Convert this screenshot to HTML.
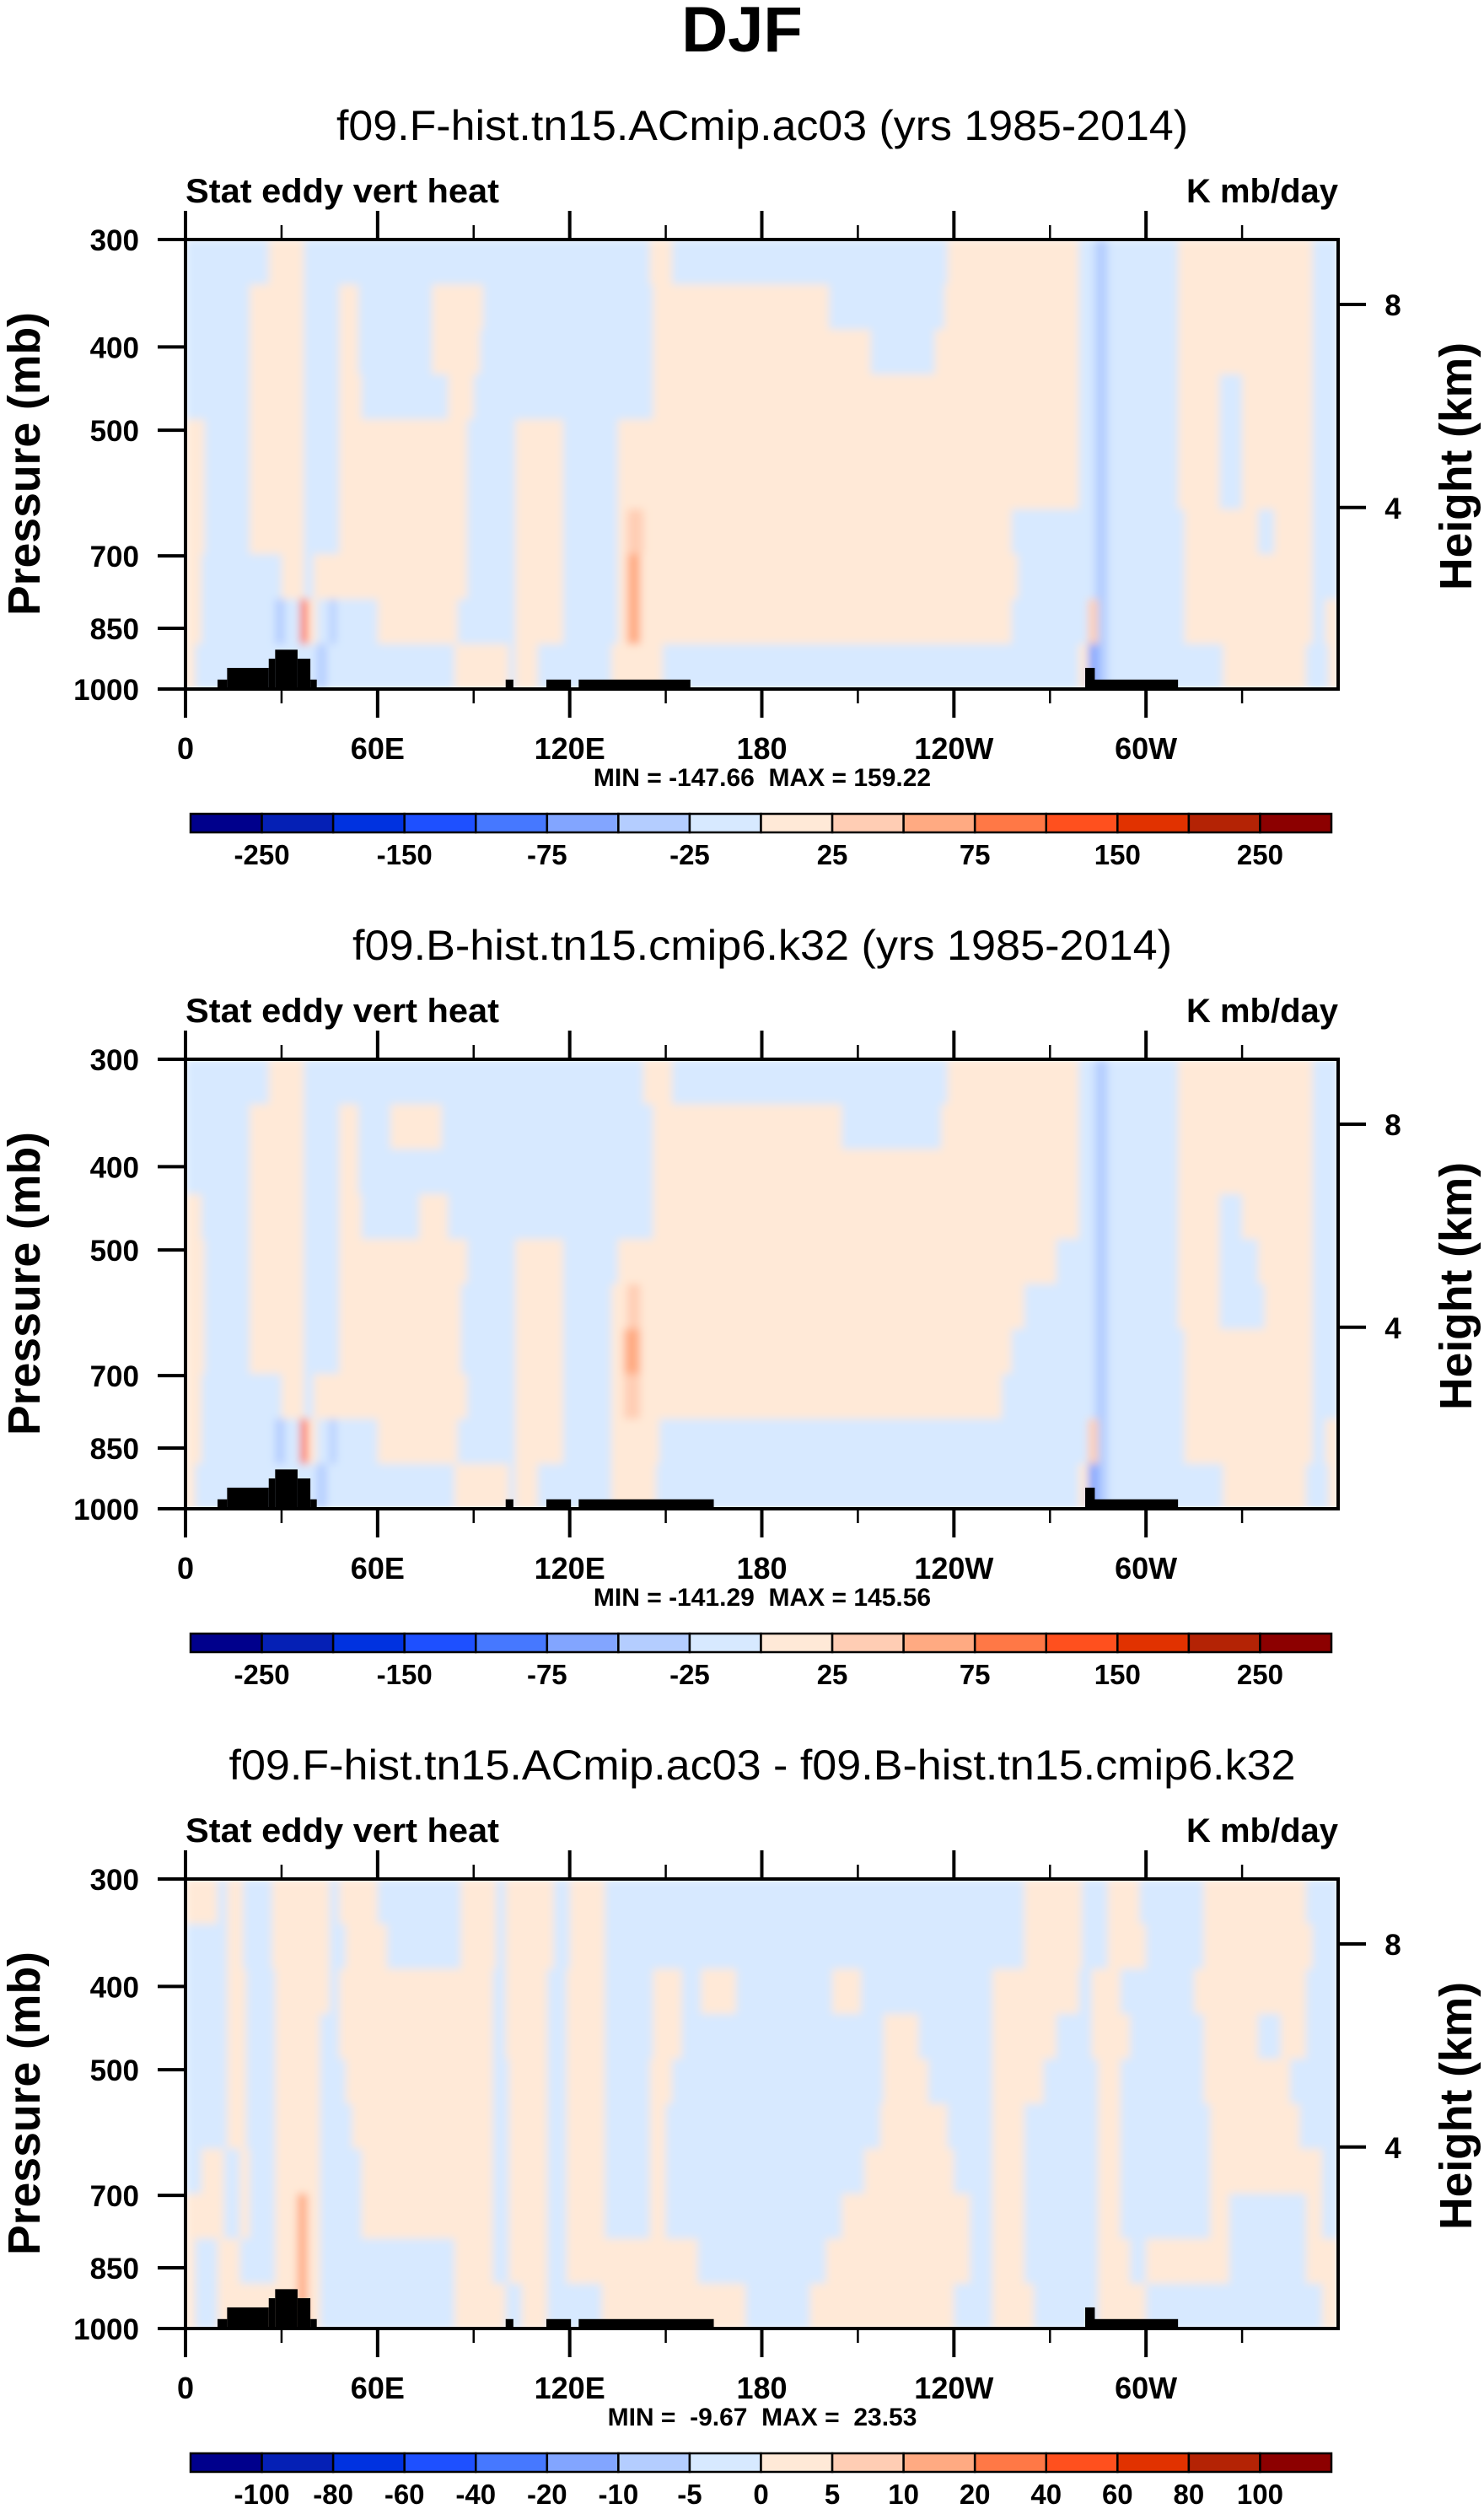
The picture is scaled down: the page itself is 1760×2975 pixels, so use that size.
<!DOCTYPE html>
<html><head><meta charset="utf-8"><style>
html,body{margin:0;padding:0;background:#fff;}
svg{display:block;font-family:"Liberation Sans",Arial,sans-serif;}
.pre{white-space:pre;}
</style></head><body>
<svg id="chart" xmlns="http://www.w3.org/2000/svg" width="1760" height="2975" viewBox="0 0 1760 2975">
<defs>
<filter id="soft" x="0" y="0" width="1" height="1" filterUnits="objectBoundingBox">
<feGaussianBlur stdDeviation="5" edgeMode="duplicate"/>
</filter>
</defs>
<rect width="1760" height="2975" fill="#fff"/>
<text x="880" y="61" text-anchor="middle" font-size="76" font-weight="bold">DJF</text>
</svg>
<script>
// ---------- data ----------
const lonTicks = [0, 60, 120, 180, 240, 300];
const lonLabels = ['0', '60E', '120E', '180', '120W', '60W'];
const lonMinor = [30, 90, 150, 210, 270, 330];
const pTicks = [300, 400, 500, 700, 850, 1000];
const heightTicks = ['8', '4'];
const heightTickP = [357, 615];
const levelsFull = [-250,-200,-150,-100,-75,-50,-25,0,25,50,75,100,150,200,250];
const levelsDiff = [-100,-80,-60,-40,-20,-10,-5,0,5,10,20,40,60,80,100];
const palette = ['#00008C','#0520B5','#0032E0','#1E50FF','#4678FF','#82A5FF','#B4CDFF','#D7E9FF','#FFE9D7','#FFCDB4','#FFAA82','#FF7846','#FF501E','#E13200','#B42305','#8C0000'];
const titles = ['f09.F-hist.tn15.ACmip.ac03 (yrs 1985-2014)','f09.B-hist.tn15.cmip6.k32 (yrs 1985-2014)','f09.F-hist.tn15.ACmip.ac03 - f09.B-hist.tn15.cmip6.k32'];
const titleWidths = [1010, 972, 1265];
const minVals = ['-147.66','-141.29',' -9.67'];
const maxVals = ['159.22','145.56',' 23.53'];
// rows from top (300mb) to bottom (1000mb); each row: [lonStart, value] segments
const field1 = [
 [[0,-10],[26,10],[37,-10],[145,10],[152,-10],[238,10],[279,-10],[284,-40],[288,-10],[310,10],[352,-10]],
 [[0,-10],[20,10],[37,-10],[48,10],[54,-10],[77,10],[93,-10],[146,10],[201,-10],[237,10],[279,-10],[284,-40],[288,-10],[310,10],[352,-10]],
 [[0,-10],[20,10],[37,-10],[48,10],[54,-10],[77,10],[92,-10],[146,10],[214,-10],[234,10],[279,-10],[284,-40],[288,-10],[310,10],[352,-10]],
 [[0,-10],[20,10],[37,-10],[48,10],[55,-10],[82,10],[90,-10],[146,10],[279,-10],[284,-40],[288,-10],[310,10],[323,-10],[330,10],[352,-10]],
 [[0,10],[6,-10],[20,10],[37,-10],[48,10],[88,-10],[103,10],[118,-10],[135,10],[279,-10],[284,-40],[288,-10],[310,10],[323,-10],[330,10],[352,-10]],
 [[0,10],[6,-10],[20,10],[37,-10],[48,10],[88,-10],[103,10],[118,-10],[135,10],[279,-10],[284,-40],[288,-10],[310,10],[323,-10],[330,10],[352,-10]],
 [[0,10],[6,-10],[20,10],[37,-10],[48,10],[88,-10],[103,10],[118,-10],[135,10],[138,40],[143,10],[258,-10],[284,-40],[288,-10],[312,10],[335,-10],[340,10],[352,-10]],
 [[0,10],[5,-10],[30,10],[37,-10],[40,10],[88,-10],[103,10],[118,-10],[135,10],[138,60],[142,10],[260,-10],[284,-40],[288,-10],[312,10],[352,-10]],
 [[0,10],[5,-10],[28,-40],[31,-10],[36,100],[38,10],[41,-10],[45,-40],[47,-10],[60,10],[85,-10],[103,10],[118,-10],[135,10],[138,60],[142,10],[258,-10],[282,40],[285,-40],[288,-10],[312,10],[352,-10],[356,10]],
 [[0,10],[3,-10],[41,-40],[44,-10],[84,10],[101,-10],[103,10],[110,-10],[133,10],[149,-10],[279,10],[282,-60],[285,-40],[288,-10],[324,10],[350,-10],[357,10]]
];
const field2 = [
 [[0,-10],[26,10],[37,-10],[143,10],[152,-10],[238,10],[279,-10],[284,-40],[288,-10],[310,10],[352,-10]],
 [[0,-10],[20,10],[37,-10],[48,10],[54,-10],[64,10],[80,-10],[146,10],[205,-10],[236,10],[279,-10],[284,-40],[288,-10],[310,10],[352,-10]],
 [[0,-10],[20,10],[37,-10],[48,10],[54,-10],[146,10],[279,-10],[284,-40],[288,-10],[310,10],[352,-10]],
 [[0,10],[5,-10],[20,10],[37,-10],[48,10],[55,-10],[73,10],[82,-10],[146,10],[279,-10],[284,-40],[288,-10],[310,10],[323,-10],[330,10],[352,-10]],
 [[0,10],[6,-10],[20,10],[37,-10],[48,10],[88,-10],[103,10],[118,-10],[135,10],[272,-10],[284,-40],[288,-10],[310,10],[323,-10],[335,10],[352,-10]],
 [[0,10],[6,-10],[20,10],[37,-10],[48,10],[86,-10],[103,10],[118,-10],[133,10],[138,40],[142,10],[262,-10],[284,-40],[288,-10],[310,10],[323,-10],[337,10],[352,-10]],
 [[0,10],[6,-10],[20,10],[37,-10],[48,10],[86,-10],[103,10],[118,-10],[133,10],[137,60],[142,10],[258,-10],[284,-40],[288,-10],[312,10],[352,-10]],
 [[0,10],[5,-10],[30,10],[37,-10],[40,10],[88,-10],[103,10],[118,-10],[133,10],[137,40],[142,10],[255,-10],[284,-40],[288,-10],[312,10],[352,-10]],
 [[0,10],[5,-10],[28,-40],[31,-10],[36,100],[38,10],[41,-10],[45,-40],[47,-10],[60,10],[85,-10],[103,10],[118,-10],[133,10],[148,-10],[282,40],[285,-40],[288,-10],[312,10],[352,-10],[356,10]],
 [[0,10],[3,-10],[41,-40],[44,-10],[84,10],[101,-10],[103,10],[110,-10],[133,10],[147,-10],[279,10],[282,-60],[285,-40],[288,-10],[324,10],[350,-10],[357,10]]
];
const field3 = [
 [[0,2],[10,-2],[13,2],[18,-2],[27,2],[45,-2],[48,2],[60,-2],[86,2],[97,-2],[100,2],[115,-2],[120,2],[131,-2],[262,2],[280,-2],[288,2],[298,-2],[318,2],[350,-2]],
 [[0,-2],[13,2],[18,-2],[27,2],[45,-2],[50,2],[63,-2],[86,2],[97,-2],[100,2],[115,-2],[120,2],[131,-2],[262,2],[280,-2],[288,2],[300,-2],[318,2],[352,-2]],
 [[0,-2],[13,2],[19,-2],[28,2],[45,-2],[48,2],[96,-2],[100,2],[113,-2],[119,2],[131,-2],[146,2],[155,-2],[161,2],[172,-2],[202,2],[211,-2],[252,2],[279,-2],[283,2],[292,-2],[315,2],[350,-2]],
 [[0,-2],[13,2],[19,-2],[28,2],[42,-2],[48,2],[96,-2],[100,2],[113,-2],[119,2],[131,-2],[146,2],[155,-2],[218,2],[229,-2],[252,2],[272,-2],[283,2],[295,-2],[318,2],[335,-2],[342,2],[350,-2]],
 [[0,-2],[13,2],[19,-2],[28,2],[42,-2],[50,2],[96,-2],[101,2],[113,-2],[119,2],[131,-2],[145,2],[152,-2],[218,2],[232,-2],[252,2],[268,-2],[285,2],[292,-2],[318,2],[345,-2]],
 [[0,-2],[13,2],[19,-2],[28,2],[42,-2],[52,2],[96,-2],[101,2],[113,-2],[119,2],[131,-2],[145,2],[150,-2],[217,2],[238,-2],[252,2],[262,-2],[285,2],[292,-2],[320,2],[348,-2]],
 [[0,-2],[5,2],[12,-2],[17,2],[20,-2],[28,2],[42,-2],[55,2],[96,-2],[101,2],[113,-2],[119,2],[131,-2],[145,2],[150,-2],[212,2],[240,-2],[252,2],[262,-2],[285,2],[292,-2],[320,2],[355,-2]],
 [[0,2],[12,-2],[17,2],[20,-2],[28,2],[35,15],[38,2],[42,-2],[55,2],[96,-2],[101,2],[113,-2],[119,2],[131,-2],[145,2],[150,-2],[205,2],[245,-2],[252,2],[262,-2],[285,2],[292,-2],[320,2],[326,-2],[350,2],[355,-2]],
 [[0,2],[3,-2],[10,2],[17,-2],[28,2],[35,15],[38,2],[42,-2],[84,2],[96,-2],[101,2],[113,-2],[119,2],[160,-2],[200,2],[245,-2],[252,2],[262,-2],[285,2],[295,-2],[300,2],[326,-2],[350,2]],
 [[0,2],[3,-2],[10,2],[35,15],[38,2],[42,-2],[84,2],[100,-2],[105,2],[113,-2],[130,2],[175,-2],[195,2],[240,-2],[252,2],[265,-2],[285,2],[300,-2],[355,2]]
];
// mountains: [lonStart, lonEnd, surface pressure]
const mountains1 = [[10,13,975],[13,26,945],[26,28,922],[28,35,900],[35,39,922],[39,41,975],[100,102.4,975],[112.7,120.4,975],[122.8,157.7,975],[281,284,945],[281,310,975]];
const mountains2 = [[10,13,975],[13,26,945],[26,28,922],[28,35,900],[35,39,922],[39,41,975],[100,102.4,975],[112.7,120.4,975],[122.8,165,975],[281,284,945],[281,310,975]];
const mountains3 = [[10,13,975],[13,26,945],[26,28,922],[28,35,900],[35,39,922],[39,41,975],[100,102.4,975],[112.7,120.4,975],[122.8,165,975],[281,284,945],[281,310,975]];

// ---------- layout ----------
const svg = document.getElementById('chart');
const NS = 'http://www.w3.org/2000/svg';
const PX0 = 220, PX1 = 1587, PY0 = 284, PY1 = 817, PANEL_DY = 972;
const CB0 = 226, CB1 = 1579;
function xScale(lon){ return PX0 + (lon/360)*(PX1-PX0); }
function yScale(p, off){ return off + PY0 + (Math.log(p/300)/Math.log(1000/300))*(PY1-PY0); }
function colorFor(v, levels){ let i=0; while(i<levels.length && v>=levels[i]) i++; return palette[i]; }
function mk(tag, attrs, parent){ const e=document.createElementNS(NS,tag); for(const k in attrs) e.setAttribute(k, attrs[k]); (parent||svg).appendChild(e); return e; }
function txt(str, attrs, parent){ const e=mk('text', attrs, parent); e.textContent=str; return e; }

function drawPanel(k, field, mountains, levels, labelEvery){
  const off = k*PANEL_DY;
  const g = mk('g', {});
  
  
  const t = txt(titles[k], {x:904, y:166+off, 'text-anchor':'middle', 'font-size':50, textLength:titleWidths[k], lengthAdjust:'spacingAndGlyphs'}, g);
  
  
  const l = txt('Stat eddy vert heat', {x:PX0, y:240+off, 'font-size':40, 'font-weight':'bold', textLength:372, lengthAdjust:'spacingAndGlyphs'}, g);
  
  
  const u = txt('K mb/day', {x:PX1, y:240+off, 'font-size':40, 'font-weight':'bold', 'text-anchor':'end'}, g);
  
  
  // field cells (softened)
  const cells = mk('g', {filter:'url(#soft)'}, g);
  
  
  const nRows = field.length;
  field.forEach((row, r) => {
    const y0 = off + PY0 + r*(PY1-PY0)/nRows, y1 = off + PY0 + (r+1)*(PY1-PY0)/nRows;
    row.forEach((seg, s) => {
      const lon1 = s < row.length-1 ? row[s+1][0] : 360;
      const x0 = xScale(seg[0]), x1 = xScale(lon1);
      const c = mk('rect', {x:x0, y:y0, width:x1-x0+0.6, height:y1-y0+0.6, fill:colorFor(seg[1], levels)}, cells);
      
      
    });
  });
  // mountains
  mountains.forEach(m => {
    const y = yScale(m[2], off);
    const b = mk('rect', {x:xScale(m[0]), y:y, width:xScale(m[1])-xScale(m[0]), height:yScale(1000,off)-y, fill:'#000'}, g);
    
    
  });
  // frame
  const fr = mk('rect', {x:PX0, y:PY0+off, width:PX1-PX0, height:PY1-PY0, fill:'none', stroke:'#000', 'stroke-width':4}, g);
  
  
  // lon ticks
  lonTicks.forEach((lon, i) => {
    const x = xScale(lon);
    mk('line', {x1:x, x2:x, y1:PY0+off-34, y2:PY0+off, stroke:'#000', 'stroke-width':4}, g);
    mk('line', {x1:x, x2:x, y1:PY1+off, y2:PY1+off+34, stroke:'#000', 'stroke-width':4}, g);
    const tl = txt(lonLabels[i], {x:x, y:900+off, 'text-anchor':'middle', 'font-size':36, 'font-weight':'bold'}, g);
    
    
  });
  lonMinor.forEach(lon => {
    const x = xScale(lon);
    mk('line', {x1:x, x2:x, y1:PY0+off-17, y2:PY0+off, stroke:'#000', 'stroke-width':2.5}, g);
    mk('line', {x1:x, x2:x, y1:PY1+off, y2:PY1+off+17, stroke:'#000', 'stroke-width':2.5}, g);
  });
  // pressure ticks
  pTicks.forEach(p => {
    const y = yScale(p, off);
    mk('line', {x1:PX0-33, x2:PX0, y1:y, y2:y, stroke:'#000', 'stroke-width':4}, g);
    const pl = txt(String(p), {x:165, y:y+13, 'text-anchor':'end', 'font-size':35, 'font-weight':'bold'}, g);
    
    
  });
  heightTicks.forEach((h, i) => {
    const y = yScale(heightTickP[i], off);
    mk('line', {x1:PX1, x2:PX1+33, y1:y, y2:y, stroke:'#000', 'stroke-width':4}, g);
    const hl = txt(h, {x:1652, y:y+13, 'text-anchor':'middle', 'font-size':35, 'font-weight':'bold'}, g);
    
    
  });
  const yt = txt('Pressure (mb)', {x:0, y:0, 'text-anchor':'middle', 'font-size':54, 'font-weight':'bold', textLength:360, lengthAdjust:'spacingAndGlyphs', transform:'translate(47,'+(550+off)+') rotate(-90)'}, g);
  
  
  const ht = txt('Height (km)', {x:0, y:0, 'text-anchor':'middle', 'font-size':54, 'font-weight':'bold', textLength:294, lengthAdjust:'spacingAndGlyphs', transform:'translate(1745,'+(553+off)+') rotate(-90)'}, g);
  
  
  const mm = txt('MIN = ' + minVals[k] + '  MAX = ' + maxVals[k], {x:904, y:932+off, 'text-anchor':'middle', 'font-size':30, 'font-weight':'bold', 'class':'pre'}, g);
  
  
  // colorbar
  const cb = mk('g', {}, g);
  
  
  const bw = (CB1-CB0)/palette.length;
  palette.forEach((c, i) => {
    const b = mk('rect', {x:CB0+i*bw, y:965+off, width:bw, height:22, fill:c, stroke:'#000', 'stroke-width':2.5}, cb);
    
    
  });
  levels.forEach((lv, i) => {
    if (i % labelEvery !== 0) return;
    const cl = txt(String(lv), {x:CB0+(i+1)*bw, y:1025+off, 'text-anchor':'middle', 'font-size':33, 'font-weight':'bold'}, cb);
    
    
  });
}
drawPanel(0, field1, mountains1, levelsFull, 2);
drawPanel(1, field2, mountains2, levelsFull, 2);
drawPanel(2, field3, mountains3, levelsDiff, 1);
</script>
</body></html>
